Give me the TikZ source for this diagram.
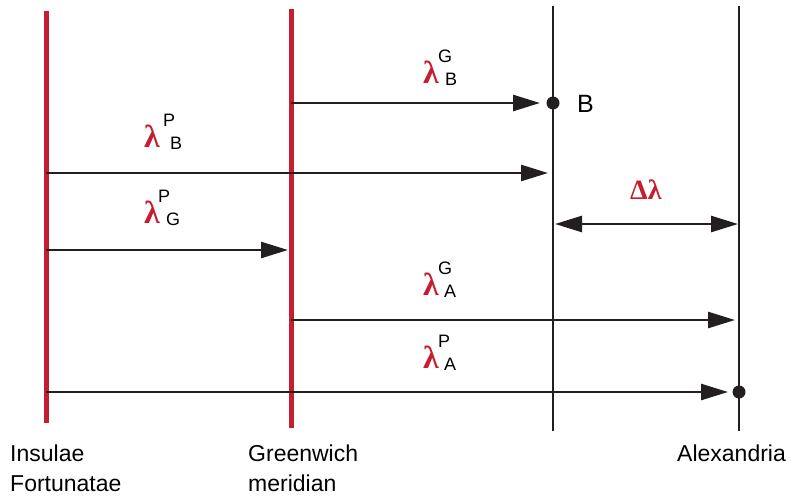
\documentclass[tikz,border=0pt]{standalone}
\usepackage{fontspec}
\setmainfont{Liberation Sans}
\newfontfamily\lamserif{Liberation Serif}
\usetikzlibrary{arrows.meta}
\definecolor{lred}{RGB}{196,30,48}
\definecolor{lblk}{RGB}{35,31,32}
% #1 sup, #2 sub, #3 sup x-offset, #4 sub x-offset
\newcommand{\lamlab}[4]{%
  \makebox[0pt][l]{\color{lred}\fontsize{32}{32}\lamserif\bfseries λ}%
  \makebox[0pt][l]{\hspace{#3pt}\raisebox{21pt}{\fontsize{18}{18}\selectfont #1}}%
  \hspace{#4pt}\raisebox{-2.5pt}{\fontsize{18}{18}\selectfont #2}}
\begin{document}
\begin{tikzpicture}[x=1pt,y=-1pt,
  redline/.style={draw=lred,line width=5pt},
  blkline/.style={draw=lblk,line width=2.5pt},
  arr/.style={draw=lblk,line width=2.6pt,-{Triangle[length=27pt,width=16pt]}},
  dblarr/.style={draw=lblk,line width=2.6pt,{Triangle[length=27pt,width=16pt]}-{Triangle[length=27pt,width=16pt]}},
  dotnode/.style={circle,fill=lblk,minimum size=13pt,inner sep=0pt},
  txt/.style={font=\fontsize{23}{30}\selectfont,inner sep=0pt,anchor=base west,align=left},
  lam/.style={inner sep=0pt,anchor=base west}]
\useasboundingbox (0,0) rectangle (791,495);
% meridians
\coordinate (I0) at (46,11);  \coordinate (I1) at (46,423);
\coordinate (G0) at (291.5,9); \coordinate (G1) at (291.5,428);
\coordinate (B0) at (553,6);  \coordinate (B1) at (553,431);
\coordinate (A0) at (739,6);  \coordinate (A1) at (739,431);
\draw[redline] (I0) -- (I1);
\draw[redline] (G0) -- (G1);
\draw[blkline] (B0) -- (B1);
\draw[blkline] (A0) -- (A1);
% dots
\node[dotnode] (Bdot) at (553,103) {};
\node[dotnode] (Adot) at (739,392) {};
% arrow end points
\coordinate (g1) at (291,103);
\coordinate (i2) at (46,173);  \coordinate (b2) at (548,173);
\coordinate (i3) at (46,250);  \coordinate (g3) at (288,250);
\coordinate (b4) at (555,224); \coordinate (a4) at (738,224);
\coordinate (g5) at (291,320); \coordinate (a5) at (735,320);
\coordinate (i6) at (46,392);
% arrows
\draw[arr,shorten >=13pt] (g1) -- (Bdot.center);
\draw[arr] (i2) -- (b2);
\draw[arr] (i3) -- (g3);
\draw[dblarr] (b4) -- (a4);
\draw[arr] (g5) -- (a5);
\draw[arr,shorten >=11pt] (i6) -- (Adot.center);
% lambda labels
\node[lam] (lBG) at (423,83) {\lamlab{G}{B}{15}{22}};
\node[lam] (lBP) at (144,147) {\lamlab{P}{B}{19}{26}};
\node[lam] (lGP) at (144,223) {\lamlab{P}{G}{14}{22}};
\node[lam] (lAG) at (423,295) {\lamlab{G}{A}{15}{21}};
\node[lam] (lAP) at (423,368) {\lamlab{P}{A}{15}{21}};
\node[lam,text=lred,font=\fontsize{28}{28}\lamserif\bfseries] (dl) at (630,199) {Δλ};
% text labels
\node[txt,font=\fontsize{25}{25}\selectfont] (Bl) at (577,112) {B};
\node[txt] (ins) at (10,491) {Insulae\\Fortunatae};
\node[txt] (gre) at (248,491) {Greenwich\\meridian};
\node[txt] (alx) at (677,461) {Alexandria};
\end{tikzpicture}
\end{document}
